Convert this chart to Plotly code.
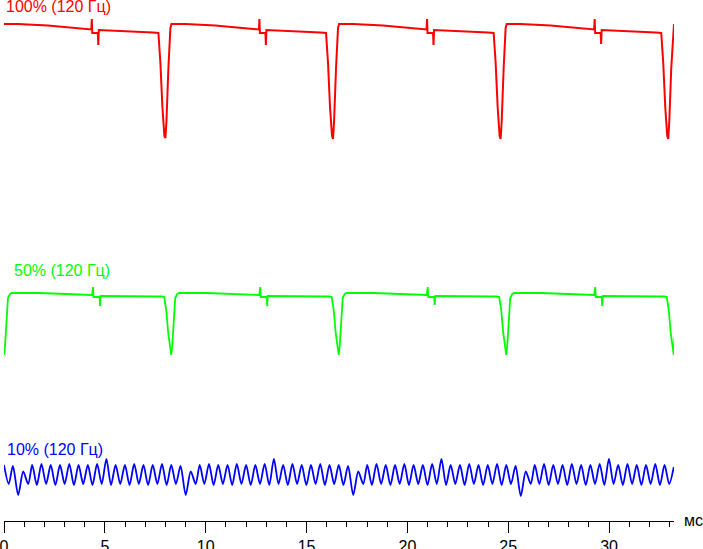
import plotly.graph_objects as go

# oscillogram of brightness vs time (ms), 3 brightness levels at 120 Hz
# values are vertical levels in arbitrary units (0 = time axis)

red_t = [0.000, 0.684, 2.171, 3.163, 4.155, 4.328, 4.353, 4.378, 4.651, 4.675, 4.700, 6.138, 7.378,
         7.656, 7.755, 7.854, 7.953, 8.003, 8.053, 8.152, 8.251, 8.301,
         8.995, 10.482, 11.474, 12.466, 12.639, 12.664, 12.689, 12.962, 12.986, 13.011, 14.449, 15.689,
         15.967, 16.066, 16.165, 16.264, 16.314, 16.364, 16.463, 16.562, 16.612,
         17.306, 18.793, 19.785, 20.777, 20.950, 20.975, 21.000, 21.273, 21.297, 21.322, 22.760, 24.000,
         24.278, 24.377, 24.476, 24.575, 24.625, 24.675, 24.774, 24.873, 24.923,
         25.617, 27.104, 28.096, 29.088, 29.261, 29.286, 29.311, 29.584, 29.608, 29.633, 31.071, 32.311,
         32.588, 32.687, 32.786, 32.885, 32.935, 32.985, 33.084, 33.183, 33.220]
red_v = [497, 497, 495.5, 494, 492.5, 491.5, 502, 488, 488, 476, 491, 490, 488.5,
         488, 458, 414, 385, 383, 399, 453, 493, 497,
         497, 495.5, 494, 492.5, 491.5, 502, 488, 488, 476, 491, 490, 488.5,
         488, 458, 414, 385, 382, 399, 453, 493, 497,
         497, 495.5, 494, 492.5, 491.5, 502, 488, 488, 476, 491, 490, 488.5,
         488, 458, 414, 385, 382, 399, 453, 493, 497,
         497, 495.5, 494, 492.5, 491.5, 502, 488, 488, 477, 491, 490, 488.5,
         488, 458, 414, 385, 382, 399, 453, 493, 497]

green_t = [0.000, 0.050, 0.099, 0.149, 0.198, 0.298, 0.397, 1.736, 2.975, 4.364, 4.413, 4.438, 4.736, 4.760, 4.785, 6.446, 7.835,
           7.944, 8.043, 8.142, 8.241, 8.291, 8.341, 8.390, 8.440, 8.489, 8.589, 8.688,
           10.027, 11.266, 12.655, 12.704, 12.729, 13.027, 13.051, 13.076, 14.737, 16.126,
           16.249, 16.348, 16.447, 16.546, 16.596, 16.646, 16.695, 16.745, 16.794, 16.894, 16.993,
           18.332, 19.571, 20.960, 21.009, 21.034, 21.332, 21.356, 21.381, 23.042, 24.431,
           24.555, 24.654, 24.753, 24.852, 24.902, 24.952, 25.001, 25.051, 25.100, 25.200, 25.299,
           26.638, 27.877, 29.266, 29.315, 29.340, 29.638, 29.662, 29.687, 31.348, 32.737,
           32.861, 32.960, 33.059, 33.158, 33.208, 33.250]
green_v = [166, 175, 191, 211, 223, 227, 228, 228, 227, 226, 234, 224, 224, 215, 225, 225, 224.5,
           224, 211, 188, 169, 166, 175, 191, 211, 223, 227, 228,
           228, 227, 226, 234, 224, 224, 215, 225, 225, 224.5,
           224, 211, 188, 169, 166, 175, 191, 211, 223, 227, 228,
           228, 227, 226, 234, 224, 224, 216, 225, 225, 224.5,
           224, 211, 188, 169, 166, 175, 191, 211, 223, 227, 228,
           228, 227, 226, 234, 224, 224, 215, 225, 225, 224.5,
           224, 211, 188, 169, 166, 184]

blue_t = [0.000, 0.233, 0.441, 0.704, 0.952, 1.200,
          1.398, 1.628, 1.858, 2.088, 2.317, 2.547, 2.777, 3.007, 3.237, 3.467, 3.697, 3.927,
          4.156, 4.386, 4.616, 4.846, 5.076, 5.306, 5.535, 5.765, 5.995, 6.225, 6.455, 6.685,
          6.914, 7.144, 7.374, 7.604, 7.834, 8.064, 8.293, 8.523, 8.753,
          9.010, 9.258, 9.506,
          9.704, 9.934, 10.164, 10.394, 10.623, 10.853, 11.083, 11.313, 11.543, 11.773, 12.003, 12.233,
          12.462, 12.692, 12.922, 13.152, 13.382, 13.612, 13.841, 14.071, 14.301, 14.531, 14.761, 14.991,
          15.220, 15.450, 15.680, 15.910, 16.140, 16.370, 16.599, 16.829, 17.059,
          17.316, 17.564, 17.812,
          18.010, 18.240, 18.470, 18.700, 18.929, 19.159, 19.389, 19.619, 19.849, 20.079, 20.309, 20.539,
          20.768, 20.998, 21.228, 21.458, 21.688, 21.918, 22.147, 22.377, 22.607, 22.837, 23.067, 23.297,
          23.526, 23.756, 23.986, 24.216, 24.446, 24.676, 24.905, 25.135, 25.365,
          25.622, 25.870, 26.118,
          26.316, 26.546, 26.776, 27.006, 27.235, 27.465, 27.695, 27.925, 28.155, 28.385, 28.615, 28.845,
          29.074, 29.304, 29.534, 29.764, 29.994, 30.224, 30.453, 30.683, 30.913, 31.143, 31.373, 31.603,
          31.832, 32.062, 32.292, 32.522, 32.752, 32.982, 33.211]
blue_v = [56, 37, 55, 26, 49.5, 37,
          56, 36, 57, 37, 56, 36, 56, 37, 57, 36, 56, 37,
          56, 36, 57, 37, 62, 36, 56, 37, 56, 36, 57, 37,
          56, 36, 56, 37, 57, 36, 56, 37, 55,
          26, 49.5, 37,
          56, 37, 57, 36, 56, 37, 56, 36, 57, 37, 56, 36,
          56, 37, 57, 36, 62, 37, 56, 36, 57, 37, 56, 36,
          56, 37, 57, 36, 56, 37, 56, 36, 55,
          26, 49.5, 37,
          56, 36, 57, 37, 56, 36, 56, 37, 57, 36, 56, 37,
          56, 36, 57, 37, 62, 36, 56, 37, 56, 36, 57, 37,
          56, 36, 56, 37, 57, 36, 56, 37, 55,
          25, 49.5, 37,
          56, 37, 57, 36, 56, 37, 56, 36, 57, 37, 56, 36,
          56, 37, 57, 36, 62, 37, 56, 36, 57, 37, 56, 36,
          56, 37, 57, 36, 56, 37, 54]

labels = ['100% (120 Гц)', '50% (120 Гц)', '10% (120 Гц)']
label_t = [0.0, 0.42, 0.05]
label_v = [515, 251, 72]
colors = ['#ff0000', '#00ff00', '#0000ff']

font = 'Arial, Liberation Sans, sans-serif'

fig = go.Figure()
fig.add_trace(go.Scatter(x=red_t, y=red_v, mode='lines', line=dict(color=colors[0], width=2)))
fig.add_trace(go.Scatter(x=green_t, y=green_v, mode='lines', line=dict(color=colors[1], width=1.8)))
fig.add_trace(go.Scatter(x=blue_t, y=blue_v, mode='lines',
                         line=dict(color=colors[2], width=1.8, shape='spline', smoothing=0.8)))

for txt, t, v, c in zip(labels, label_t, label_v, colors):
   fig.add_annotation(x=t, y=v, text=txt, showarrow=False, xanchor='left', yanchor='middle',
                      font=dict(family=font, size=16, color=c))

# unit label at the right end of the time axis
fig.add_annotation(x=1, y=0, xref='paper', yref='paper', xshift=8, yshift=1, text='мс', showarrow=False,
                   xanchor='left', yanchor='middle', font=dict(family=font, size=16, color='black'))

fig.update_xaxes(range=[0, 33.22], showgrid=False, zeroline=False, automargin=False,
                 showline=True, linecolor='black', linewidth=1,
                 ticks='outside', ticklen=11, tickcolor='black', tickwidth=1, dtick=5, tick0=0,
                 ticklabelstandoff=0, ticklabeloverflow='allow',
                 tickfont=dict(family=font, size=16, color='black'),
                 minor=dict(dtick=1, ticks='outside', ticklen=5, tickcolor='black', tickwidth=1))
fig.update_yaxes(range=[0, 521], visible=False, showgrid=False, zeroline=False, automargin=False)

fig.update_layout(width=703, height=549, showlegend=False,
                  plot_bgcolor='white', paper_bgcolor='white',
                  margin=dict(l=4, r=29, t=0, b=28, autoexpand=False))

# page body has a default 8px margin, drop it so the figure sits at the corner
fig.write_html("out.html", config={'displayModeBar': False},
               post_script="document.body.style.margin='0';")
